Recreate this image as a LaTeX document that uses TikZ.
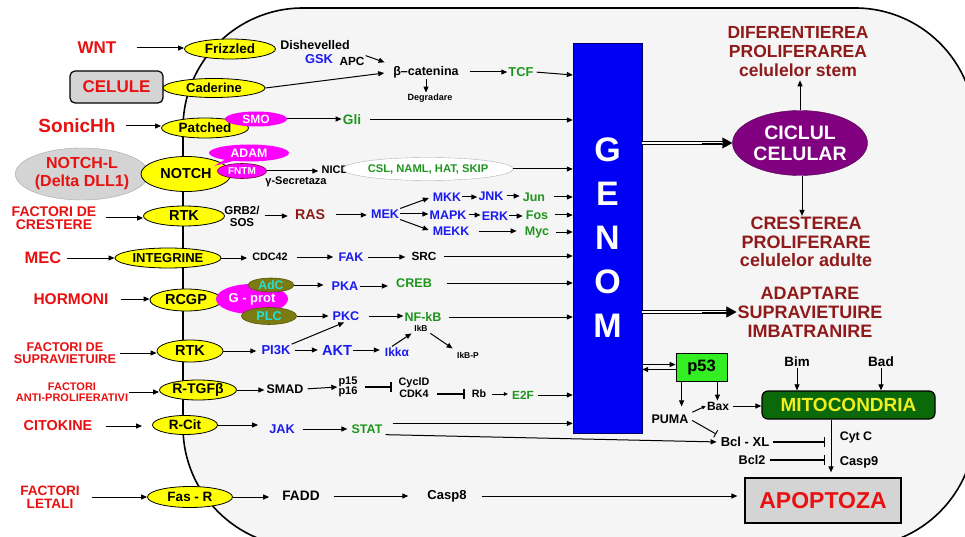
\documentclass[tikz,border=0pt]{standalone}
\usepackage{fontspec}
\setmainfont{Liberation Sans}
\usetikzlibrary{shapes.geometric,shapes.callouts,arrows.meta,calc}
\definecolor{lred}{HTML}{E81010}
\definecolor{dred}{HTML}{8E1A1A}
\definecolor{tblue}{HTML}{1A1AF0}
\definecolor{tgreen}{HTML}{1E961E}
\definecolor{cellbg}{HTML}{F5F5F5}
\definecolor{oliveC}{HTML}{7B7B12}
\definecolor{tcyan}{HTML}{22E0E0}
\definecolor{purp}{HTML}{800080}
\definecolor{p53g}{HTML}{33EE22}
\definecolor{mitog}{HTML}{0A6A0A}
\definecolor{mitoy}{HTML}{EEEE22}
\definecolor{genomb}{HTML}{0000F5}
\definecolor{mag}{HTML}{FF00FF}
\definecolor{yel}{HTML}{FFFF00}
\definecolor{lgray}{HTML}{D4D4D4}
\newcommand{\szb}[2]{\fontsize{#1}{#2}\selectfont\bfseries}
\tikzset{
  every node/.style={inner sep=1pt, font=\bfseries},
  lbl/.style={text=lred, align=center},
  rec/.style={ellipse, draw=black, line width=0.8pt, fill=yel, inner sep=0pt},
  magel/.style={ellipse, fill=mag, text=white, inner sep=0pt},
  oliv/.style={ellipse, fill=oliveC, draw=oliveC!70!black, line width=0.6pt, text=tcyan, inner sep=0pt},
  blu/.style={text=tblue},
  grn/.style={text=tgreen},
  drd/.style={text=dred, align=center},
  arr/.style={-{Triangle[length=6pt,width=5pt]}, line width=1pt},
  sarr/.style={-{Triangle[length=4pt,width=3.5pt]}, line width=0.8pt},
  inh/.style={-{Bar[width=10pt]}, line width=1.2pt},
  dbl/.style={double, double distance=2.2pt, line width=1pt, shorten >=8pt},
  dbltip/.style={-{Triangle[length=10pt,width=11pt]}, line width=0.4pt, shorten <=60pt},
}
\begin{document}
\begin{tikzpicture}[x=1pt,y=-1pt]
\useasboundingbox (0,0) rectangle (965,537);
\fill[white] (0,0) rectangle (965,537);
\begin{scope}
\clip (0,0) rectangle (965,537);
\draw[line width=1.6pt, fill=cellbg, rounded corners=120pt] (183,8) rectangle (975,547);
\end{scope}

% ---------- left labels ----------
\node[lbl, font=\szb{17}{17}] (wnt) at (97,48) {WNT};
\node[draw, line width=1.2pt, fill=lgray, rounded corners=5pt, minimum width=93pt, minimum height=32pt, text=lred, font=\szb{17}{17}] (celule) at (116.5,87) {CELULE};
\node[lbl, font=\szb{19}{19}] (sonic) at (77,126) {SonicHh};
\node[ellipse, draw=gray!70, fill=lgray, minimum width=130pt, minimum height=52pt, inner sep=0pt, lbl, font=\szb{16}{18}] (notchl) at (82,174) {NOTCH-L\\(Delta DLL1)};
\node[lbl, font=\szb{14}{13}] (fcrest) at (54,218) {FACTORI DE\\CRESTERE};
\node[lbl, font=\szb{16.5}{17}] (mec) at (43,258) {MEC};
\node[lbl, font=\szb{15.5}{16}] (hormoni) at (71,299) {HORMONI};
\node[lbl, font=\szb{12.7}{12}] (fsupr) at (65,353) {FACTORI DE\\SUPRAVIETUIRE};
\node[lbl, font=\szb{11}{11}] (fanti) at (72,392) {FACTORI\\ANTI-PROLIFERATIVI};
\node[lbl, font=\szb{14.4}{15}] (citok) at (58,426) {CITOKINE};
\node[lbl, font=\szb{13.6}{13}] (fletal) at (50,497) {FACTORI\\LETALI};

% ---------- receptors ----------
\node[rec, minimum width=91pt, minimum height=20pt, font=\szb{13.5}{14}] (frizz) at (230,49) {Frizzled};
\node[rec, minimum width=102pt, minimum height=19pt, font=\szb{13}{13}] (cader) at (214,88) {Caderine};
\node[rec, minimum width=87pt, minimum height=20pt, font=\szb{13.5}{14}] (patch) at (205,128) {Patched};
\node[magel, minimum width=62pt, minimum height=15pt, font=\szb{12}{12}] (smo) at (256,119) {SMO};
\node[rec, minimum width=90pt, minimum height=35pt, font=\szb{14.4}{14}] (notch) at (186,174) {NOTCH};
\node[ellipse callout, callout absolute pointer={(214,166)}, fill=mag, text=white, minimum width=80pt, minimum height=17pt, inner sep=0pt, font=\szb{12.3}{12}] (adam) at (249,153) {ADAM};
\node[magel, draw=purple!60!black, line width=0.6pt, minimum width=49pt, minimum height=15pt, font=\szb{10}{10}] (fntm) at (242,171) {FNTM};
\node[font=\szb{11}{11}] (gsec) at (296,182) {γ-Secretaza};
\node[rec, minimum width=81pt, minimum height=20pt, font=\szb{14.5}{14}] (rtk1) at (184,216) {RTK};
\node[rec, minimum width=106pt, minimum height=20pt, font=\szb{13}{13}] (integ) at (168,258) {INTEGRINE};
\node[rec, minimum width=72pt, minimum height=22pt, font=\szb{14.5}{14}] (rcgp) at (186,300) {RCGP};
\node[magel, minimum width=72pt, minimum height=30pt, font=\szb{13}{13}] (gprot) at (252,299) {G - prot};
\node[oliv, minimum width=46pt, minimum height=14pt, font=\szb{12.2}{12}] (adc) at (271,285) {AdC};
\node[oliv, minimum width=55pt, minimum height=17pt, font=\szb{12.7}{12}] (plc) at (269,316) {PLC};
\node[rec, minimum width=66pt, minimum height=22pt, font=\szb{14.5}{14}] (rtk2) at (190,351) {RTK};
\node[rec, minimum width=77pt, minimum height=20pt, font=\szb{14}{14}] (rtgf) at (198,390) {R-TGFβ};
\node[rec, minimum width=65pt, minimum height=19pt, font=\szb{13.5}{14}] (rcit) at (185,425) {R-Cit};
\node[rec, minimum width=85pt, minimum height=21pt, font=\szb{13.5}{14}] (fasr) at (190,497) {Fas - R};

% ---------- left arrows ----------
\draw[arr, shorten <=19pt] (wnt.east) -- (wnt.east -| frizz.west);
\draw[arr, shorten <=9pt] (sonic.east) -- (sonic.east -| patch.west);
\draw[arr, shorten <=9pt] (fcrest.east) -- (fcrest.east -| rtk1.west);
\draw[arr, shorten <=4pt] (mec.east) -- (mec.east -| integ.west);
\draw[arr, shorten <=11pt] (hormoni.east) -- (hormoni.east -| rcgp.west);
\draw[arr, shorten <=3pt] (fsupr.east) -- (fsupr.east -| rtk2.west);
\draw[arr] (fanti.east) -- (fanti.east -| rtgf.west);
\draw[arr, shorten <=13pt, shorten >=10pt] (citok.east) -- (citok.east -| rcit.west);
\draw[arr, shorten <=11pt] (fletal.east) -- (fletal.east -| fasr.west);

% ---------- GENOM ----------
\node[draw=blue!40!black, fill=genomb, minimum width=69pt, minimum height=390pt, text=white, align=center, font=\szb{34}{44}] (genom) at (607.5,238) {G\\E\\N\\O\\M};

% ---------- WNT pathway ----------
\node[font=\szb{12.5}{13}] (dish) at (315,45) {Dishevelled};
\node[blu, font=\szb{12.9}{13}] (gsk) at (319,59) {GSK};
\node[font=\szb{11.8}{12}] (apc) at (352,61) {APC};
\node[font=\szb{12.5}{13}] (bcat) at (426,72) {β–catenina};
\node[font=\szb{9}{9}] (degr) at (430,98) {Degradare};
\node[grn, font=\szb{12.9}{13}] (tcf) at (521,72) {TCF};
\draw[arr, shorten >=8pt] (cader.east) -- (bcat.west);
\draw[arr, shorten >=8pt] (apc.north east) -- (bcat.north west);
\draw[arr] (bcat.south) -- (bcat.south |- degr.north);
\draw[arr, shorten <=10pt] (bcat.east) -- (tcf.west);
\draw[arr, shorten <=2pt] (tcf.east) -- ($(tcf.east -| genom.west)+(0,3)$);

% Hedgehog
\node[grn, font=\szb{13.7}{14}] (gli) at (352,120) {Gli};
\draw[arr] (smo.east) -- (smo.east -| gli.west);
\draw[arr, shorten <=8pt] (gli.east) -- (gli.east -| genom.west);

% Notch
\node[font=\szb{11}{11}] (nicd) at (335,170) {NICD};
\node[ellipse, draw=gray!60, fill=white, minimum width=155pt, minimum height=23pt, inner sep=0pt, grn, font=\szb{11.2}{11}] (csl) at (428,169) {CSL, NAML, HAT, SKIP};
\draw[arr, shorten >=2pt] (fntm.east) -- (fntm.east -| nicd.west);
\draw[arr] (csl.east) -- (csl.east -| genom.west);

% RTK / RAS
\node[align=center, font=\szb{11.5}{12}] (grb) at (242,216) {GRB2/\\SOS};
\node[text=dred, font=\szb{14.2}{14}] (ras) at (310,215) {RAS};
\node[blu, font=\szb{12.6}{13}] (mek) at (385,214) {MEK};
\node[blu, font=\szb{12.4}{13}] (mkk) at (447,197) {MKK};
\node[blu, font=\szb{12.5}{13}] (mapk) at (448,215) {MAPK};
\node[blu, font=\szb{12.4}{13}] (mekk) at (451,231) {MEKK};
\node[blu, font=\szb{12.5}{13}] (jnk) at (491,196) {JNK};
\node[blu, font=\szb{12.5}{13}] (erk) at (495,216) {ERK};
\node[grn, font=\szb{12.5}{13}] (jun) at (534,197) {Jun};
\node[grn, font=\szb{12.5}{13}] (fos) at (537,215) {Fos};
\node[grn, font=\szb{12.5}{13}] (myc) at (537,232) {Myc};
\draw[arr, shorten <=4pt, shorten >=6pt] (grb.east) -- (grb.east -| ras.west);
\draw[arr, shorten <=10pt, shorten >=3pt] (ras.east) -- (ras.east -| mek.west);
\draw[arr, shorten >=3pt] (mek.north east) -- (mkk.west);
\draw[arr] (mek.east) -- (mek.east -| mapk.west);
\draw[arr, shorten >=3pt] (mek.south east) -- (mekk.west);
\draw[arr] (mkk.east) -- (mkk.east -| jnk.west);
\draw[arr, shorten <=2pt, shorten >=2pt] (jnk.east) -- (jnk.east -| jun.west);
\draw[arr, shorten <=1pt] (mapk.east) -- (mapk.east -| erk.west);
\draw[arr, shorten >=2pt] (erk.east) -- (erk.east -| fos.west);
\draw[arr, shorten <=9pt, shorten >=7pt] (mekk.east) -- (mekk.east -| myc.west);
\draw[arr, shorten <=8pt] (jun.east) -- (jun.east -| genom.west);
\draw[arr, shorten <=6pt] (fos.east) -- (fos.east -| genom.west);
\draw[arr, shorten <=6pt] (myc.east) -- (myc.east -| genom.west);

% Integrine
\node[font=\szb{10.8}{11}] (cdc) at (270,257) {CDC42};
\node[blu, font=\szb{12.5}{13}] (fak) at (351,257) {FAK};
\node[font=\szb{11.8}{12}] (src) at (424,256) {SRC};
\draw[arr, shorten >=4pt] (integ.east) -- (integ.east -| cdc.west);
\draw[arr, shorten <=8pt, shorten >=4pt] (cdc.east) -- (cdc.east -| fak.west);
\draw[arr, shorten <=3pt, shorten >=5pt] (fak.east) -- (fak.east -| src.west);
\draw[arr, shorten <=6pt] (src.east) -- (src.east -| genom.west);

% RCGP
\node[blu, font=\szb{12.6}{13}] (pka) at (345,286) {PKA};
\node[grn, font=\szb{12.6}{13}] (creb) at (414,283) {CREB};
\node[blu, font=\szb{12.6}{13}] (pkc) at (346,316) {PKC};
\node[grn, font=\szb{12.5}{13}] (nfkb) at (423,317) {NF-kB};
\draw[arr, shorten >=7pt] (adc.east) -- (adc.east -| pka.west);
\draw[arr, shorten >=7pt] (pka.east) -- (pka.east -| creb.west);
\draw[arr, shorten <=14pt] (creb.east) -- (creb.east -| genom.west);
\draw[arr, shorten >=3pt] (plc.east) -- (plc.east -| pkc.west);
\draw[arr, shorten <=8pt] (pkc.east) -- (pkc.east -| nfkb.west);
\draw[arr, shorten <=6pt] (nfkb.east) -- (nfkb.east -| genom.west);

% RTK survival
\node[blu, font=\szb{13}{13}] (pi3k) at (276,350) {PI3K};
\node[blu, font=\szb{14.6}{15}] (akt) at (337,350) {AKT};
\node[blu, font=\szb{12}{12}] (ikka) at (397,352) {Ikkα};
\node[font=\szb{8.5}{9}] (ikb) at (421,328) {IkB};
\node[font=\szb{8.5}{9}] (ikbp) at (468,355) {IkB-P};
\draw[arr, shorten >=4pt] (rtk2.east) -- (rtk2.east -| pi3k.west);
\draw[arr, shorten >=2pt] (pi3k.north east) -- (pkc.south);
\draw[arr, shorten <=3pt, shorten >=3pt] (pi3k.east) -- (pi3k.east -| akt.west);
\draw[arr, shorten >=4pt] (akt.east) -- (akt.east -| ikka.west);
\draw[arr, shorten >=2pt] ([xshift=-5pt]ikka.north) -- (ikb.south west);
\draw[arr, shorten <=2pt, shorten >=4pt] (ikb.south east) -- (ikbp.north west);

% TGF
\node[font=\szb{12.5}{13}] (smad) at (285,389) {SMAD};
\node[align=center, font=\szb{11}{10}] (p1516) at (348,387) {p15\\p16};
\node[font=\szb{10.8}{11}] (cycid) at (414,383) {CyclD};
\node[font=\szb{10.8}{11}] (cdk4) at (414,394) {CDK4};
\node[font=\szb{10.7}{11}] (rb) at (479,394) {Rb};
\node[grn, font=\szb{11.8}{12}] (e2f) at (523,395) {E2F};
\draw[arr, shorten >=1pt] (rtgf.east) -- (rtgf.east -| smad.west);
\draw[arr, shorten <=3pt] (smad.east) -- (p1516.west);
\draw[inh, shorten <=6pt, shorten >=6pt] (p1516.east) -- (p1516.east -| cycid.west);
\draw[inh, shorten <=7pt, shorten >=6pt] (cdk4.east) -- (cdk4.east -| rb.west);
\draw[sarr, shorten <=5pt, shorten >=3pt] (rb.east) -- (rb.east -| e2f.west);
\draw[arr, shorten <=3pt] (e2f.east) -- (e2f.east -| genom.west);

% Cytokines
\node[blu, font=\szb{12.7}{13}] (jak) at (282,429) {JAK};
\node[grn, font=\szb{12.5}{13}] (stat) at (367,429) {STAT};
\draw[arr, shorten >=10pt] (rcit.east) -- (rcit.east -| jak.west);
\draw[arr, shorten <=7pt, shorten >=3pt] (jak.east) -- (jak.east -| stat.west);
\draw[arr, shorten <=9pt] (stat.north east) -- (stat.north east -| genom.west);

% Fas
\node[font=\szb{13.7}{14}] (fadd) at (301,496) {FADD};
\node[font=\szb{13}{13}] (casp8) at (447,496) {Casp8};
\draw[arr, shorten >=12pt] (fasr.east) -- (fasr.east -| fadd.west);
\draw[arr, shorten <=13pt, shorten >=18pt] (fadd.east) -- (fadd.east -| casp8.west);

% ---------- right side ----------
\node[ellipse, fill=purp, draw=purp!60!black, minimum width=135pt, minimum height=65pt, inner sep=0pt, text=white, align=center, font=\szb{19.5}{21}] (ciclul) at (800,143) {CICLUL\\CELULAR};
\node[drd, font=\szb{17.5}{19}] (difer) at (798,52) {DIFERENTIEREA\\PROLIFERAREA\\celulelor stem};
\node[drd, font=\szb{18}{18.5}] (crest) at (806,242) {CRESTEREA\\PROLIFERARE\\celulelor adulte};
\node[drd, font=\szb{18}{19}] (adapt) at (810,312) {ADAPTARE\\SUPRAVIETUIRE\\IMBATRANIRE};
\draw[dbl] (genom.east |- ciclul.west) -- (ciclul.west);
\draw[dbltip] (genom.east |- ciclul.west) -- (ciclul.west);
\draw[dbl] (genom.east |- adapt.west) -- (adapt.west);
\draw[dbltip] (genom.east |- adapt.west) -- (adapt.west);
\draw[arr, shorten >=2pt] (ciclul.north) -- (ciclul.north |- difer.south);
\draw[arr] ([xshift=2pt]ciclul.south) -- ([xshift=2pt]ciclul.south |- crest.north);

% apoptosis
\node[draw, line width=0.8pt, fill=p53g, minimum width=51pt, minimum height=28pt, font=\szb{16.5}{16}] (p53) at (701.5,367) {p53};
\node[font=\szb{12.5}{13}] (puma) at (670,419) {PUMA};
\node[font=\szb{12}{12}] (bax) at (718,406) {Bax};
\node[draw, line width=1.2pt, fill=mitog, rounded corners=6pt, minimum width=173pt, minimum height=28pt, text=mitoy, font=\szb{19}{19}] (mito) at (848.5,405) {MITOCONDRIA};
\node[font=\szb{13.4}{13}] (bim) at (797,362) {Bim};
\node[font=\szb{13.6}{13}] (bad) at (881,362) {Bad};
\node[font=\szb{13}{13}] (bclxl) at (745,442) {Bcl - XL};
\node[font=\szb{12.6}{13}] (bcl2) at (752,460) {Bcl2};
\node[font=\szb{12.4}{13}] (cytc) at (856,437) {Cyt C};
\node[font=\szb{12.8}{13}] (casp9) at (859,462) {Casp9};
\node[draw, line width=1.2pt, fill=lgray, minimum width=156pt, minimum height=45pt, text=lred, font=\szb{23}{24}] (apopt) at (823,500.5) {APOPTOZA};

\draw[arr] ($(p53.west -| genom.east)+(0,-2.5)$) -- ($(p53.west)+(0,-2.5)$);
\draw[arr] ($(p53.west)+(0,2.5)$) -- ($(p53.west -| genom.east)+(0,2.5)$);
\coordinate (p53a) at ($(p53.south west)+(6,0)$);
\coordinate (p53b) at ($(p53.south east)+(-10,0)$);
\draw[arr, shorten >=7pt] (p53a) -- (p53a |- puma.north);
\draw[arr] (p53b) -- (p53b |- bax.north);
\draw[sarr, line width=1pt, shorten <=3pt] (puma.north east) -- (bax.west);
\draw[-{Bar[width=8pt]}, line width=1pt, shorten <=3pt, shorten >=4pt] (puma.east) -- (bclxl.north west);
\draw[arr, shorten <=3pt] (bax.east) -- (bax.east -| mito.west);
\draw[arr, line width=0.6pt] (bim.south) -- (bim.south |- mito.north);
\draw[arr] (bad.south) -- (bad.south |- mito.north);
\coordinate (mdown) at ($(mito.south)+(-17.5,0)$);
\draw[arr, shorten >=5pt] (mdown) -- (mdown |- apopt.north);
\draw[inh, shorten <=3pt, shorten >=6pt] (bclxl.east) -- (bclxl.east -| mdown);
\draw[inh, shorten <=3pt, shorten >=6pt] (bcl2.east) -- (bcl2.east -| mdown);
\draw[line width=1pt, -{Triangle[length=6pt,width=5pt]}, shorten <=2pt, shorten >=3pt] (stat.south east) -- (bclxl.west);
\draw[arr, shorten <=14pt, shorten >=7pt] (casp8.east) -- (casp8.east -| apopt.west);
\end{tikzpicture}
\end{document}
